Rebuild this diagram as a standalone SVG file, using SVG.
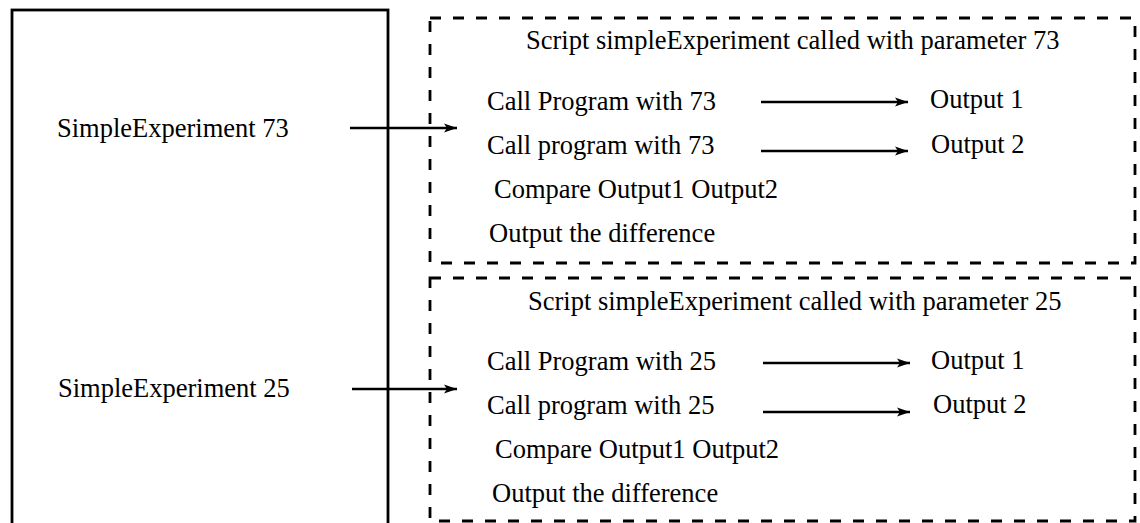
<svg xmlns="http://www.w3.org/2000/svg" width="1140" height="523" viewBox="0 0 1140 523">
<style>
text{font-family:"Liberation Serif","Times New Roman",serif;font-size:26.5px;fill:#000}
.solid{fill:none;stroke:#000;stroke-width:2.8}
.dash{fill:none;stroke:#000;stroke-width:2.8;stroke-dasharray:11 12}
.arr{fill:none;stroke:#000;stroke-width:2.6;marker-end:url(#ah)}
</style>
<defs>
<marker id="ah" markerUnits="userSpaceOnUse" markerWidth="14" markerHeight="10" refX="13" refY="5" orient="auto">
<path d="M0,0.5 L13,5 L0,9.5 L3,5 z" fill="#000"/>
</marker>
</defs>
<rect width="1140" height="523" fill="#fff"/>
<g id="caller">
<rect class="solid" x="12" y="10" width="376" height="530"/>
<text x="57" y="137">SimpleExperiment 73</text>
<text x="58" y="397">SimpleExperiment 25</text>
</g>
<g id="script73">
<rect class="dash" x="430" y="18" width="705" height="245"/>
<text x="526" y="49">Script simpleExperiment called with parameter 73</text>
<text x="487" y="110">Call Program with 73</text>
<text x="930" y="108">Output 1</text>
<text x="487" y="154">Call program with 73</text>
<text x="931" y="153">Output 2</text>
<text x="494" y="198">Compare Output1 Output2</text>
<text x="489" y="242">Output the difference</text>
</g>
<g id="script25">
<rect class="dash" x="430" y="278" width="705" height="243"/>
<text x="528" y="310">Script simpleExperiment called with parameter 25</text>
<text x="487" y="370">Call Program with 25</text>
<text x="931" y="369">Output 1</text>
<text x="487" y="414">Call program with 25</text>
<text x="933" y="413">Output 2</text>
<text x="495" y="458">Compare Output1 Output2</text>
<text x="492" y="502">Output the difference</text>
</g>
<g id="connectors">
<line class="arr" x1="350" y1="128" x2="457" y2="128"/>
<line class="arr" x1="761" y1="102" x2="908" y2="102"/>
<line class="arr" x1="761" y1="151" x2="908" y2="151"/>
<line class="arr" x1="352" y1="389" x2="457" y2="389"/>
<line class="arr" x1="763" y1="363" x2="910" y2="363"/>
<line class="arr" x1="763" y1="412" x2="910" y2="412"/>
</g>
</svg>
